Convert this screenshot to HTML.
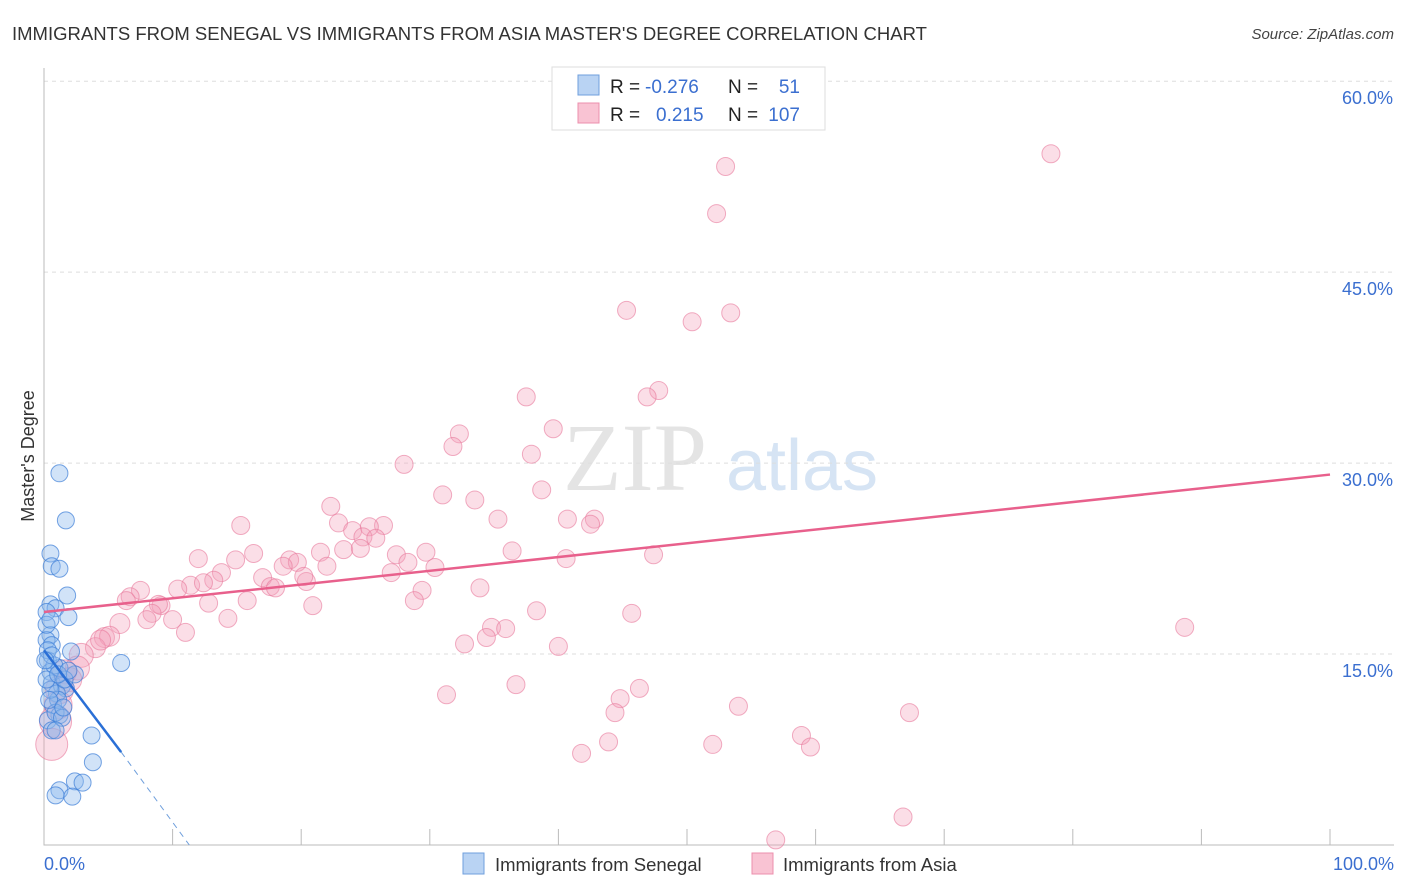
<!DOCTYPE html>
<html><head><meta charset="utf-8">
<style>
body{margin:0;background:#fff;font-family:"Liberation Sans",sans-serif;}
#c{position:absolute;left:0;top:0;width:1406px;height:892px;}
</style></head>
<body>
<svg id="c" width="1406" height="892" xmlns="http://www.w3.org/2000/svg">
<text x="12" y="40" font-size="18.5" fill="#333">IMMIGRANTS FROM SENEGAL VS IMMIGRANTS FROM ASIA MASTER'S DEGREE CORRELATION CHART</text>
<text x="1394" y="39" font-size="15" fill="#444" text-anchor="end" font-style="italic">Source: ZipAtlas.com</text>
<g id="watermark">
<text x="635" y="490" font-size="96" fill="#e4e4e4" text-anchor="middle" font-family="Liberation Serif,serif">ZIP</text>
<text x="802" y="490" font-size="72" fill="#d6e4f4" text-anchor="middle">atlas</text>
</g>
<g id="grid"></g><g id="axes"></g><g id="marks"></g>
<text transform="translate(34,456) rotate(-90)" font-size="18" fill="#333" text-anchor="middle">Master's Degree</text>
<g>
<rect x="552" y="67" width="273" height="63" fill="#fff" stroke="#ddd"/>
<rect x="578" y="75" width="21" height="20" fill="#b9d3f3" stroke="#6f9fdc"/>
<rect x="578" y="103" width="21" height="20" fill="#f9c3d3" stroke="#ec8fac"/>
<text x="610" y="93" font-size="19" fill="#222">R = </text><text x="645" y="93" font-size="19" fill="#3b6fd0">-0.276</text>
<text x="728" y="93" font-size="19" fill="#222">N = </text><text x="800" y="93" font-size="19" fill="#3b6fd0" text-anchor="end">51</text>
<text x="610" y="121" font-size="19" fill="#222">R = </text><text x="656" y="121" font-size="19" fill="#3b6fd0">0.215</text>
<text x="728" y="121" font-size="19" fill="#222">N = </text><text x="800" y="121" font-size="19" fill="#3b6fd0" text-anchor="end">107</text>
</g>
<g>
<rect x="463" y="853" width="21" height="21" fill="#b9d3f3" stroke="#6f9fdc"/>
<text x="495" y="871" font-size="18.5" fill="#333">Immigrants from Senegal</text>
<rect x="752" y="853" width="21" height="21" fill="#f9c3d3" stroke="#ec8fac"/>
<text x="783" y="871" font-size="18.5" fill="#333">Immigrants from Asia</text>
</g>
</svg>
<script>
const yTicks=[15,30,45,60];
const yTickLabels=["15.0%","30.0%","45.0%","60.0%"];
const xEndLabels=["0.0%","100.0%"];
const blueX=[1.2,1.7,0.5,0.6,1.2,0.5,0.9,1.8,0.2,1.9,0.5,0.2,0.6,2.1,0.3,6.0,0.5,1.2,2.4,0.6,1.4,1.7,1.0,0.7,1.2,0.3,0.6,3.7,3.8,2.4,3.0,1.2,0.9,2.2,0.2,0.3,0.8,1.6,1.1,0.5,0.9,1.4,0.2,0.6,1.1,0.4,0.9,1.5,0.1,1.9,0.5];
const blueY=[29.2,25.5,22.9,21.9,21.7,18.9,18.6,19.6,18.3,17.9,16.5,16.1,15.7,15.2,14.5,14.3,13.6,13.9,13.4,12.7,12.5,12.3,11.9,11.0,10.2,9.8,9.0,8.6,6.5,5.0,4.9,4.3,3.9,3.8,17.3,15.3,14.1,13.0,11.4,12.2,10.4,10.0,13.0,14.9,13.4,11.4,9.0,10.8,14.5,13.7,17.7];
const pinkX=[78.3,53.0,52.3,45.3,53.4,50.4,47.8,46.9,37.5,32.3,39.6,31.8,28.0,37.9,38.7,31.0,33.5,22.3,35.3,40.7,42.8,42.5,22.9,15.3,24.0,26.4,25.3,24.8,25.8,21.5,23.3,24.6,16.3,12.0,14.9,36.4,27.4,29.7,40.6,47.4,19.1,19.7,18.6,28.3,30.4,22.0,27.0,13.8,17.0,20.4,20.2,17.6,18.0,11.4,13.2,12.4,10.4,7.5,6.7,6.4,15.8,12.8,33.9,29.4,28.8,20.9,9.1,8.9,8.4,38.3,45.7,8.0,10.0,14.3,11.0,5.9,88.7,34.8,35.9,34.4,32.7,40.0,4.7,5.1,4.0,2.9,2.6,1.6,1.2,1.1,0.9,0.6,36.7,46.3,31.3,44.8,44.4,54.0,67.3,43.9,52.0,41.8,58.9,59.6,66.8,56.9,4.4,2.0];
const pinkY=[54.3,53.3,49.6,42.0,41.8,41.1,35.7,35.2,35.2,32.3,32.7,31.3,29.9,30.7,27.9,27.5,27.1,26.6,25.6,25.6,25.6,25.2,25.3,25.1,24.7,25.1,25.0,24.2,24.1,23.0,23.2,23.3,22.9,22.5,22.4,23.1,22.8,23.0,22.5,22.8,22.4,22.2,21.9,22.2,21.8,21.9,21.4,21.4,21.0,20.7,21.1,20.3,20.2,20.4,20.8,20.6,20.1,20.0,19.5,19.2,19.2,19.0,20.2,20.0,19.2,18.8,18.8,18.9,18.2,18.4,18.2,17.7,17.7,17.8,16.7,17.4,17.1,17.1,17.0,16.3,15.8,15.6,16.3,16.4,15.5,14.9,13.9,13.6,12.2,11.0,9.7,7.9,12.6,12.3,11.8,11.5,10.4,10.9,10.4,8.1,7.9,7.2,8.6,7.7,2.2,0.4,16.1,13.0];
const pinkTrend=[18.3,29.1];
const blueTrendX=[0,6.0,11.3];
const blueTrendY=[15.3,7.3,0];

const NS="http://www.w3.org/2000/svg";
const X0=44,X1=1330,Y0=845,PPY=12.73;
const sx=v=>X0+(X1-X0)*v/100;
const sy=v=>Y0-v*PPY;
function mk(t,a,p){const e=document.createElementNS(NS,t);for(const k in a)e.setAttribute(k,a[k]);p.appendChild(e);return e;}
const grid=document.getElementById('grid'),axes=document.getElementById('axes'),marks=document.getElementById('marks');
yTicks.forEach((v,i)=>{
  const l=mk('line',{x1:X0,x2:1394,y1:sy(v),y2:sy(v),stroke:'#ddd','stroke-dasharray':'4,4'},grid);
  
  
  const t=mk('text',{x:1393,y:sy(v)+23,'font-size':18,fill:'#3b6fd0','text-anchor':'end'},axes);
  t.textContent=yTickLabels[i];
  
  
});
const ax=mk('path',{d:`M${X0},68 V${Y0} H1394`,stroke:'#bbb',fill:'none'},axes);


for(let i=1;i<=10;i++){
  const tk=mk('line',{x1:sx(i*10),x2:sx(i*10),y1:Y0,y2:Y0-16,stroke:'#bbb'},axes);
  
  
}
[[0,'start',44],[100,'end',1394]].forEach((d,i)=>{
  const t=mk('text',{x:d[2],y:870,'font-size':18,fill:'#3b6fd0','text-anchor':d[1]},axes);
  t.textContent=xEndLabels[i];
  
  
});
pinkX.forEach((x,i)=>{
  const r=x<1?16:x<1.5?14:x<3?12:x<6?10:9;
  const c=mk('circle',{cx:sx(x),cy:sy(pinkY[i]),r:r,fill:'rgba(244,160,186,0.35)',stroke:'rgba(232,120,155,0.6)','stroke-width':1},marks);
  
  
});
blueX.forEach((x,i)=>{
  const c=mk('circle',{cx:sx(x),cy:sy(blueY[i]),r:8.5,fill:'rgba(140,185,238,0.4)',stroke:'rgba(60,125,215,0.7)','stroke-width':1},marks);
  
  
});
const pt=mk('line',{x1:sx(0),y1:sy(pinkTrend[0]),x2:sx(100),y2:sy(pinkTrend[1]),stroke:'#e8608c','stroke-width':2.5},marks);


const bt=mk('line',{x1:sx(blueTrendX[0]),y1:sy(blueTrendY[0]),x2:sx(blueTrendX[1]),y2:sy(blueTrendY[1]),stroke:'#2a6fd6','stroke-width':2.5},marks);


const bd=mk('line',{x1:sx(blueTrendX[1]),y1:sy(blueTrendY[1]),x2:sx(blueTrendX[2]),y2:sy(blueTrendY[2]),stroke:'#6f9fdc','stroke-width':1,'stroke-dasharray':'6,5'},marks);


</script>
</body></html>
